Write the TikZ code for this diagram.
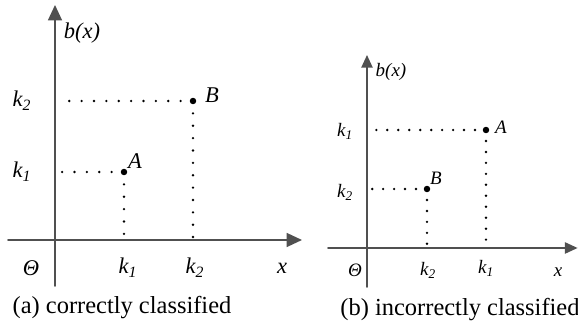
\documentclass[tikz,border=0pt]{standalone}
\usepackage{fontspec}
\setmainfont{Liberation Serif}
\usetikzlibrary{arrows.meta}
\definecolor{ejegris}{HTML}{505050}

\tikzset{
  eje/.style={ejegris,line width=1.1pt},
  puntos/.style={line width=1.9pt,line cap=round,dash pattern=on 0pt off 8.8pt},
  punto/.style={circle,fill=black,inner sep=0pt,minimum size=4.6pt},
  etq/.style={font=\fontsize{16}{18}\selectfont\itshape,inner sep=0pt},
  etqb/.style={font=\fontsize{13.5}{16}\selectfont\itshape,inner sep=0pt},
  pie/.style={font=\fontsize{17.4}{20}\selectfont,inner sep=0pt}
}

\begin{document}
\begin{tikzpicture}[line cap=round]
  \useasboundingbox (0,0) rectangle (14.45,8.175);
  % (a) correctly classified
  \begin{scope}
    \coordinate (O1) at (1.375,2.175);
    \coordinate (Y1a) at (1.375,1.025);
    \coordinate (Y1b) at (1.375,8.05);
    \coordinate (X1a) at (0.2,2.175);
    \coordinate (X1b) at (7.55,2.175);
    \draw[eje,-{Triangle[width=10pt,length=11pt]}] (Y1a) -- (Y1b);
    \draw[eje,-{Triangle[width=10pt,length=11pt]}] (X1a) -- (X1b);
    \node[punto] (A1) at (3.1,3.875) {};
    \node[punto] (B1) at (4.825,5.65) {};
    \coordinate (A1y) at (1.45,3.875);
    \coordinate (B1y) at (1.45,5.65);
    \draw[puntos] (A1.center) -- (A1y);
    \draw[puntos] (B1.center) -- (B1y);
    \draw[puntos] (A1.center) -- (A1 |- O1);
    \draw[puntos] (B1.center) -- (B1 |- O1);
    \node[etq] (lA1) at (3.375,4.15) {A};
    \node[etq] (lB1) at (5.3,5.8) {B};
    \node[etq] (k2y1) at (0.55,5.65) {k\textsubscript{2}};
    \node[etq] (k1y1) at (0.55,3.875) {k\textsubscript{1}};
    \node[etq] (th1) at (0.775,1.475) {Θ};
    \node[etq] (k1x1) at (3.2,1.475) {k\textsubscript{1}};
    \node[etq] (k2x1) at (4.875,1.475) {k\textsubscript{2}};
    \node[etq] (x1) at (7.05,1.475) {x};
    \node[etq] (b1) at (2.05,7.35) {b(x)};
    \node[pie] (capa) at (3.05,0.475) {(a) correctly classified};
  \end{scope}
  % (b) incorrectly classified
  \begin{scope}
    \coordinate (O2) at (9.175,1.975);
    \coordinate (Y2a) at (9.175,1.0);
    \coordinate (Y2b) at (9.175,6.8);
    \coordinate (X2a) at (8.2,1.975);
    \coordinate (X2b) at (14.44,1.975);
    \draw[eje,-{Triangle[width=8pt,length=9pt]}] (Y2a) -- (Y2b);
    \draw[eje,-{Triangle[width=8pt,length=9pt]}] (X2a) -- (X2b);
    \node[punto] (A2) at (12.15,4.925) {};
    \node[punto] (B2) at (10.675,3.45) {};
    \coordinate (A2y) at (9.25,4.925);
    \coordinate (B2y) at (9.25,3.45);
    \draw[puntos,dash pattern=on 0pt off 7.8pt] (A2.center) -- (A2y);
    \draw[puntos,dash pattern=on 0pt off 7.8pt] (B2.center) -- (B2y);
    \draw[puntos,dash pattern=on 0pt off 7.8pt] (A2.center) -- (A2 |- O2);
    \draw[puntos,dash pattern=on 0pt off 7.8pt] (B2.center) -- (B2 |- O2);
    \node[etqb] (lA2) at (12.525,5.0) {A};
    \node[etqb] (lB2) at (10.9,3.725) {B};
    \node[etqb] (k1y2) at (8.625,4.9) {k\textsubscript{1}};
    \node[etqb] (k2y2) at (8.625,3.375) {k\textsubscript{2}};
    \node[etqb] (th2) at (8.875,1.425) {Θ};
    \node[etqb] (k2x2) at (10.7,1.425) {k\textsubscript{2}};
    \node[etqb] (k1x2) at (12.15,1.475) {k\textsubscript{1}};
    \node[etqb] (x2) at (13.95,1.375) {x};
    \node[etqb] (b2) at (9.775,6.375) {b(x)};
    \node[pie] (capb) at (11.5,0.425) {(b) incorrectly classified};
  \end{scope}
\end{tikzpicture}
\end{document}
